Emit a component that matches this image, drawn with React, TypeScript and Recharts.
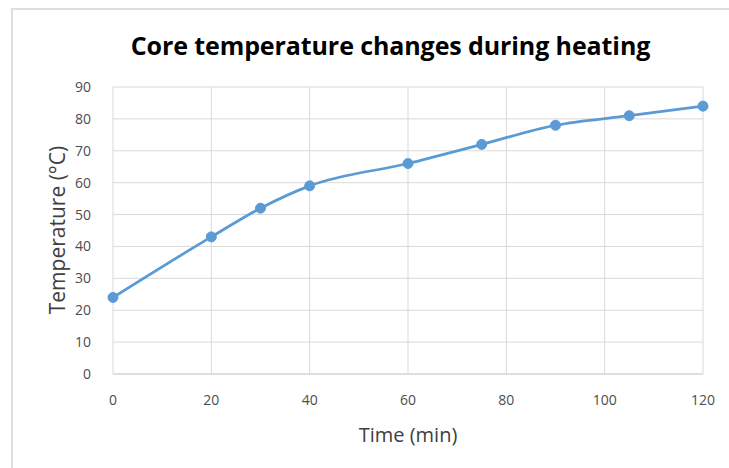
import { CartesianGrid, Line, LineChart, XAxis, YAxis } from "recharts"

const times = [0, 20, 30, 40, 60, 75, 90, 105, 120]
const temperatures = [24, 43, 52, 59, 66, 72, 78, 81, 84]
const xTicks = [0, 20, 40, 60, 80, 100, 120]
const yTicks = [0, 10, 20, 30, 40, 50, 60, 70, 80, 90]

const chartData = times.map((t, i) => ({ time: t, temp: temperatures[i] }))

const font = "'Open Sans', 'Noto Sans', sans-serif"

export default function App() {
  return (
    <div style={{ position: "absolute", left: 0, top: 0, width: 729, height: 468, background: "#fff", overflow: "hidden", fontFamily: font }}>
      {/* light frame, cropped on right and bottom */}
      <div style={{ position: "absolute", left: 11, top: 8, width: 740, height: 480, border: "2px solid #dedede", boxSizing: "border-box" }} />
      <div style={{ position: "absolute", left: 0, width: 729, top: 29, textAlign: "center", paddingLeft: 52, boxSizing: "border-box", fontSize: 25, fontWeight: 700, color: "#000", lineHeight: "32px", letterSpacing: -0.1 }}>
        Core temperature changes during heating
      </div>
      <div style={{ position: "absolute", left: 57, top: 230, transform: "translate(-50%, -50%) rotate(-90deg)", whiteSpace: "nowrap", fontSize: 21, color: "#404040" }}>
        Temperature (°C)
      </div>
      <div style={{ position: "absolute", left: 408, top: 434, transform: "translate(-50%, -50%)", whiteSpace: "nowrap", fontSize: 20, color: "#404040" }}>
        Time (min)
      </div>
      <LineChart width={729} height={468} data={chartData} margin={{ top: 87, right: 26, bottom: 54, left: 0 }} style={{ position: "absolute", left: 0, top: 0 }}>
        <CartesianGrid stroke="#d9d9d9" strokeWidth={1} />
        <XAxis
          dataKey="time"
          type="number"
          domain={[0, 120]}
          ticks={xTicks}
          axisLine={{ stroke: "#d0d0d0" }}
          tickLine={false}
          tickMargin={15}
          tick={{ fill: "#4d4d4d", fontSize: 14, fontFamily: font }}
          height={40}
        />
        <YAxis
          type="number"
          domain={[0, 90]}
          ticks={yTicks}
          axisLine={false}
          tickLine={false}
          tickMargin={16}
          tick={{ fill: "#4d4d4d", fontSize: 14, fontFamily: font }}
          width={113}
        />
        <Line
          type="monotone"
          dataKey="temp"
          stroke="#5b9bd5"
          strokeWidth={2.75}
          dot={{ r: 5, fill: "#5b9bd5", stroke: "#5b9bd5", strokeWidth: 1 }}
          isAnimationActive={false}
        />
      </LineChart>
    </div>
  )
}
